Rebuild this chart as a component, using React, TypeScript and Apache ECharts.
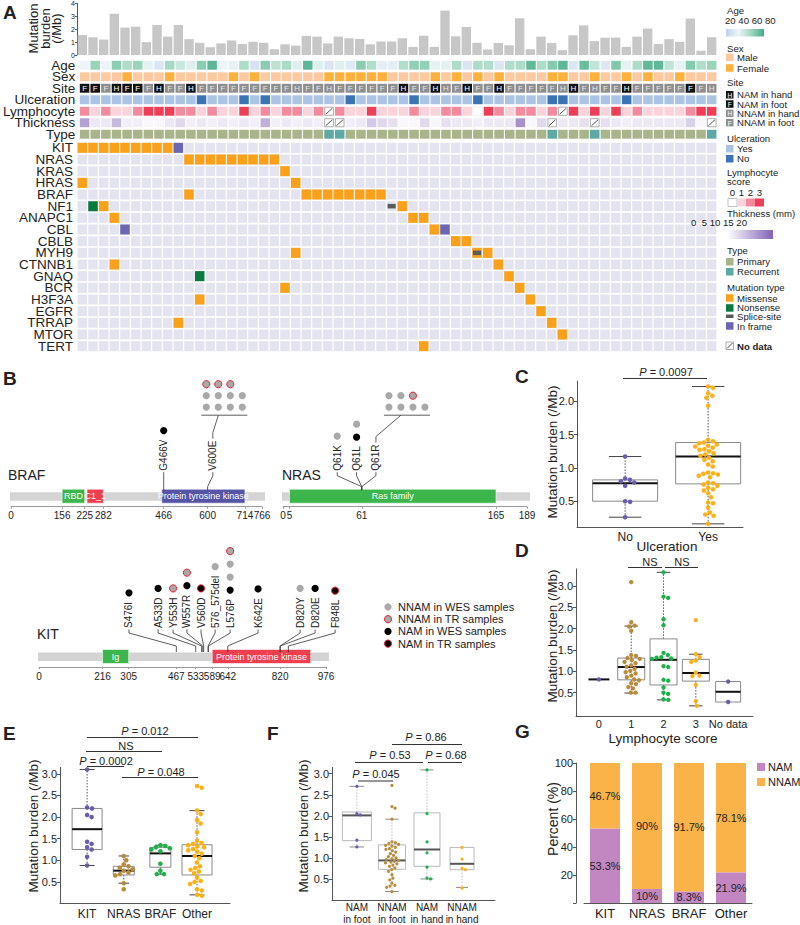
import React, { useEffect, useRef } from 'react';
import * as echarts from 'echarts';

const FONT = '"Liberation Sans", Arial, Helvetica, sans-serif';

/* ================= Panel A : oncoprint ================= */
const mutationBurden = [1.55, 1.38, 1.2, 3.2, 2.13, 2.2, 1.0, 2.33, 1.43, 2.33, 1.23, 0.95, 0.6, 0.9, 1.13, 0.85, 1.03, 0.95, 0.45, 0.83, 0.73, 1.48, 1.43, 0.9, 1.43, 1.3, 1.25, 0.83, 1.05, 1.05, 1.3, 0.63, 1.5, 0.63, 3.45, 1.45, 2.18, 0.95, 0.43, 0.93, 0.75, 2.85, 0.45, 1.43, 0.93, 0.38, 1.53, 2.3, 1.08, 1.35, 1.35, 0.63, 1.43, 2.05, 0.85, 1.23, 1.03, 2.83, 0.33, 1.38];
const sampleIds = mutationBurden.map((_, i) => 'P' + (i + 1));
const trackNames = ['Age', 'Sex', 'Site', 'Ulceration', 'Lymphocyte', 'Thickness', 'Type'];
const ageYears = [40, 62, 40, 65, 57, 62, 42, 32, 59, 50, 44, 65, 75, 40, 42, 57, 30, 65, 53, 58, 44, 75, 44, 32, 44, 34, 65, 56, 36, 36, 56, 64, 63, 42, 43, 57, 32, 57, 56, 32, 56, 57, 74, 57, 66, 75, 33, 72, 52, 33, 67, 42, 57, 74, 74, 52, 42, 66, 56, 62];
const sexes = ['M', 'M', 'M', 'M', 'F', 'M', 'M', 'M', 'F', 'M', 'M', 'M', 'M', 'M', 'F', 'M', 'F', 'M', 'M', 'M', 'M', 'M', 'M', 'F', 'F', 'F', 'F', 'F', 'F', 'M', 'M', 'M', 'M', 'F', 'M', 'F', 'M', 'F', 'M', 'F', 'M', 'M', 'M', 'M', 'F', 'F', 'M', 'M', 'F', 'M', 'M', 'F', 'M', 'F', 'M', 'M', 'F', 'M', 'M', 'M'];
const siteNames = ['NAM in hand', 'NAM in foot', 'NNAM in hand', 'NNAM in foot'];
const siteIdx = [1, 1, 3, 0, 1, 1, 3, 0, 3, 3, 0, 3, 3, 3, 3, 3, 3, 3, 3, 3, 2, 3, 3, 2, 3, 3, 3, 3, 3, 3, 0, 3, 3, 0, 2, 3, 0, 3, 3, 0, 3, 3, 3, 3, 3, 2, 0, 3, 2, 3, 3, 0, 3, 3, 3, 3, 3, 1, 3, 2];
const ulcerationYes = [1, 1, 1, 1, 1, 1, 1, 1, 1, 1, 1, 0, 1, 1, 1, 0, 1, 0, 1, 1, 1, 1, 1, 1, 1, 0, 1, 1, 1, 1, 1, 0, 1, 1, 1, 1, 1, 0, 1, 1, 1, 1, 1, 1, 0, 0, 1, 1, 1, 1, 1, 0, 1, 1, 1, 1, 1, 1, 1, 1];
const lymphocyteScore: (number | null)[] = [2, 1, 2, 1, 1, 2, 3, 3, 3, 2, 2, 1, 2, 1, 1, 3, 1, 2, 1, 2, 2, 1, 2, null, 2, 1, 1, 3, 1, 1, 1, 2, 1, 1, 2, 2, 1, 0, 3, 2, 1, 2, 2, 1, 2, null, 3, 1, 3, 1, 3, 1, 2, 1, 1, 1, 1, 2, 3, 3];
const thicknessMm: (number | null)[] = [12, 3, 3, 9, 2, 2, 1, 1, 3, 5, 2, 3, 2, 3, 2, 3, 2, 10, 2, 3, 2, 3, 2, null, null, 2, 3, 7, 5, 4, 1, 1, 5, 1, 4, 3, 3, 2, 3, 3, 3, 14, 1, 5, null, 3, 3, 4, null, 4, 3, 2, 3, 3, 3, 3, 3, 6, 1, null];
const tumorTypeIdx = [0, 0, 0, 0, 0, 0, 0, 0, 0, 0, 0, 0, 0, 0, 0, 0, 0, 0, 0, 0, 0, 0, 0, 1, 1, 0, 0, 0, 0, 0, 0, 0, 0, 0, 0, 0, 0, 0, 0, 0, 0, 0, 0, 0, 1, 0, 0, 0, 1, 0, 0, 0, 0, 0, 0, 0, 0, 0, 0, 1];
const genes = ['KIT', 'NRAS', 'KRAS', 'HRAS', 'BRAF', 'NF1', 'ANAPC1', 'CBL', 'CBLB', 'MYH9', 'CTNNB1', 'GNAQ', 'BCR', 'H3F3A', 'EGFR', 'TRRAP', 'MTOR', 'TERT'];
const mutations: [string, number, string][] = [
  ['KIT', 0, 'Missense'], ['KIT', 1, 'Missense'], ['KIT', 2, 'Missense'], ['KIT', 3, 'Missense'], ['KIT', 4, 'Missense'],
  ['KIT', 5, 'Missense'], ['KIT', 6, 'Missense'], ['KIT', 7, 'Missense'], ['KIT', 8, 'Missense'], ['KIT', 9, 'In frame'],
  ['NRAS', 10, 'Missense'], ['NRAS', 11, 'Missense'], ['NRAS', 12, 'Missense'], ['NRAS', 13, 'Missense'], ['NRAS', 14, 'Missense'],
  ['NRAS', 15, 'Missense'], ['NRAS', 16, 'Missense'], ['NRAS', 17, 'Missense'], ['NRAS', 18, 'Missense'],
  ['KRAS', 19, 'Missense'], ['HRAS', 0, 'Missense'], ['HRAS', 20, 'Missense'],
  ['BRAF', 10, 'Missense'], ['BRAF', 21, 'Missense'], ['BRAF', 22, 'Missense'], ['BRAF', 23, 'Missense'], ['BRAF', 24, 'Missense'],
  ['BRAF', 25, 'Missense'], ['BRAF', 26, 'Missense'], ['BRAF', 27, 'Missense'], ['BRAF', 28, 'Missense'],
  ['NF1', 1, 'Nonsense'], ['NF1', 2, 'Missense'], ['NF1', 29, 'Splice-site'], ['NF1', 30, 'Missense'],
  ['ANAPC1', 3, 'Missense'], ['ANAPC1', 31, 'Missense'], ['ANAPC1', 32, 'Missense'],
  ['CBL', 4, 'In frame'], ['CBL', 33, 'Missense'], ['CBL', 34, 'In frame'],
  ['CBLB', 35, 'Missense'], ['CBLB', 36, 'Missense'],
  ['MYH9', 20, 'Missense'], ['MYH9', 37, 'Missense'], ['MYH9', 37, 'Splice-site'], ['MYH9', 38, 'Missense'],
  ['CTNNB1', 3, 'Missense'], ['CTNNB1', 39, 'Missense'],
  ['GNAQ', 11, 'Nonsense'], ['GNAQ', 40, 'Missense'],
  ['BCR', 19, 'Missense'], ['BCR', 41, 'Missense'],
  ['H3F3A', 11, 'Missense'], ['H3F3A', 42, 'Missense'],
  ['EGFR', 43, 'Missense'], ['TRRAP', 9, 'Missense'], ['TRRAP', 44, 'Missense'],
  ['MTOR', 45, 'Missense'], ['TERT', 32, 'Missense'],
];

/* ================= Panel B : lollipops ================= */
const brafLength = 766;
const brafTicks = [0, 156, 225, 282, 466, 600, 714, 766];
const brafDomainNames = ['RBD', 'C1_1', 'Protein tyrosine kinase'];
const brafDomainStart = [156, 232, 460];
const brafDomainEnd = [225, 282, 714];
const brafMut = ['G466V', 'V600E'];
const brafPos = [466, 600];
const brafNamWES = [1, 0];
const brafNamTR = [0, 0];
const brafNnamWES = [0, 8];
const brafNnamTR = [0, 3];

const nrasLength = 189;
const nrasTicks = [0, 5, 61, 165, 189];
const nrasDomainNames = ['Ras family'];
const nrasDomainStart = [5];
const nrasDomainEnd = [165];
const nrasMut = ['Q61K', 'Q61L', 'Q61R'];
const nrasPos = [61, 61, 61];
const nrasNamWES = [0, 1, 0];
const nrasNamTR = [0, 0, 0];
const nrasNnamWES = [1, 1, 6];
const nrasNnamTR = [0, 0, 1];

const kitLength = 976;
const kitTicks = [0, 216, 305, 467, 533, 589, 642, 820, 924, 976];
const kitDomainNames = ['Ig', 'Protein tyrosine kinase'];
const kitDomainStart = [216, 589];
const kitDomainEnd = [305, 924];
const kitMut = ['S476I', 'A533D', 'Y553H', 'W557R', 'V560D', '576_575del', 'L576P', 'K642E', 'D820Y', 'D820E', 'F848L'];
const kitPos = [467, 533, 553, 557, 560, 575, 576, 642, 820, 820, 848];
const kitNamWES = [1, 1, 0, 1, 0, 0, 1, 1, 0, 1, 0];
const kitNamTR = [0, 0, 0, 0, 1, 0, 0, 0, 0, 0, 1];
const kitNnamWES = [0, 0, 0, 0, 0, 1, 2, 0, 1, 0, 0];
const kitNnamTR = [0, 0, 1, 1, 0, 0, 1, 0, 0, 0, 0];
const lollipopLegend = ['NNAM in WES samples', 'NNAM in TR samples', 'NAM in WES samples', 'NAM in TR samples'];

/* ================= Panel C ================= */
const cCats = ['No', 'Yes'];
const cNo = [1.17, 0.84, 0.82, 0.80, 0.78, 0.73, 0.50, 0.49, 0.26];
const cYes = [2.22, 2.20, 2.12, 2.08, 2.05, 1.93, 1.42, 1.40, 1.38, 1.37, 1.35, 1.33, 1.32, 1.30, 1.28, 1.27, 1.25, 1.22, 1.20, 1.18, 1.15, 1.12, 1.10, 1.05, 1.02, 0.93, 0.92, 0.91, 0.90, 0.88, 0.86, 0.78, 0.77, 0.75, 0.73, 0.70, 0.68, 0.66, 0.62, 0.56, 0.48, 0.47, 0.40, 0.33, 0.30, 0.28, 0.16];
const cBoxStats = [[0.26, 0.50, 0.77, 0.82, 1.17], [0.16, 0.76, 1.17, 1.38, 2.22]];

/* ================= Panel D ================= */
const dCats = ['0', '1', '2', '3', 'No data'];
const dScore0 = [0.81];
const dScore1 = [3.09, 2.15, 2.07, 2.05, 1.95, 1.38, 1.36, 1.31, 1.29, 1.26, 1.22, 1.19, 1.14, 1.11, 1.06, 1.01, 0.98, 0.95, 0.90, 0.86, 0.81, 0.79, 0.72, 0.70, 0.63, 0.60, 0.50, 0.50];
const dScore2 = [3.32, 2.75, 2.72, 2.22, 2.08, 1.43, 1.38, 1.33, 1.32, 1.30, 1.29, 1.12, 1.10, 0.80, 0.78, 0.62, 0.50, 0.47, 0.34, 0.33];
const dScore3 = [2.20, 1.40, 1.33, 1.25, 1.22, 0.97, 0.90, 0.89, 0.68, 0.30, 0.19];
const dNoData = [0.76, 0.28];
const dBoxStats = [[0.81, 0.81, 0.81, 0.81, 0.81], [0.49, 0.80, 1.10, 1.31, 2.06], [0.33, 0.68, 1.27, 1.76, 3.32], [0.19, 0.77, 0.96, 1.28, 1.40], [0.28, 0.28, 0.52, 0.76, 0.76]];

/* ================= Panel E ================= */
const eCats = ['KIT', 'NRAS', 'BRAF', 'Other'];
const eKit = [3.10, 2.22, 2.20, 2.05, 2.00, 1.43, 1.38, 1.30, 1.25, 1.08, 0.88];
const eNras = [1.10, 1.00, 0.90, 0.86, 0.83, 0.79, 0.76, 0.72, 0.68, 0.65, 0.47, 0.33];
const eBraf = [1.35, 1.33, 1.30, 1.28, 1.25, 1.21, 0.92, 0.76, 0.68, 0.68];
const eOther = [2.72, 2.68, 2.15, 2.07, 1.93, 1.85, 1.65, 1.45, 1.40, 1.38, 1.35, 1.32, 1.30, 1.26, 1.23, 1.20, 1.15, 1.10, 1.05, 0.95, 0.86, 0.82, 0.78, 0.74, 0.70, 0.60, 0.52, 0.50, 0.45, 0.33, 0.30, 0.20, 0.18];
const eBoxStats = [[0.88, 1.25, 1.72, 2.20, 3.10], [0.47, 0.66, 0.76, 0.86, 1.10], [0.68, 0.84, 1.16, 1.30, 1.35], [0.20, 0.66, 1.10, 1.36, 2.15]];

/* ================= Panel F ================= */
const fCats = ['NAM\nin foot', 'NNAM\nin foot', 'NAM\nin hand', 'NNAM\nin hand'];
const fNamFoot = [2.70, 2.05, 2.02, 1.42, 1.26];
const fNnamFoot = [2.72, 2.22, 2.18, 1.92, 1.38, 1.36, 1.34, 1.32, 1.30, 1.28, 1.25, 1.22, 1.20, 1.17, 1.14, 1.10, 1.06, 1.03, 1.00, 0.98, 0.96, 0.94, 0.92, 0.90, 0.88, 0.86, 0.83, 0.80, 0.76, 0.72, 0.68, 0.60, 0.52, 0.48, 0.40, 0.35, 0.33, 0.30, 0.20];
const fNamHand = [3.09, 2.05, 1.38, 1.12, 0.78, 0.52, 0.50];
const fNnamHand = [1.25, 0.97, 0.75, 0.72, 0.28];
const fBoxStats = [[1.26, 1.41, 2.01, 2.09, 2.70], [0.20, 0.73, 0.94, 1.31, 1.92], [0.50, 0.80, 1.20, 2.07, 3.09], [0.30, 0.72, 0.86, 1.25, 1.25]];

/* ================= Panel G ================= */
const gCats = ['KIT', 'NRAS', 'BRAF', 'Other'];
const gNam = [53.3, 10, 8.3, 21.9];
const gNnam = [46.7, 90, 91.7, 78.1];

/* ================= helpers ================= */
const C_PURPLE = '#6a5caf';
const C_BROWN = '#b88b3d';
const C_GREEN = '#1fb04b';
const C_ORANGE = '#fbb11c';

function hex(h: string) {
  const n = parseInt(h.slice(1), 16);
  return [(n >> 16) & 255, (n >> 8) & 255, n & 255];
}
function mix(stops: [number, string][], v: number) {
  if (v <= stops[0][0]) return stops[0][1];
  for (let i = 1; i < stops.length; i++) {
    if (v <= stops[i][0]) {
      const a = stops[i - 1], b = stops[i];
      const t = (v - a[0]) / (b[0] - a[0]);
      const A = hex(a[1]), B = hex(b[1]);
      return 'rgb(' + A.map((x, k) => Math.round(x + (B[k] - x) * t)).join(',') + ')';
    }
  }
  return stops[stops.length - 1][1];
}
let measureCtx: any = null;
function textW(t: string, size: number) {
  if (!measureCtx && typeof document !== 'undefined') measureCtx = document.createElement('canvas').getContext('2d');
  if (measureCtx) {
    measureCtx.font = size + 'px ' + FONT;
    return measureCtx.measureText(t).width;
  }
  return t.length * size * 0.6;
}
function swarm(values: number[], center: number, pxX: number, pxY: number, r: number) {
  const order = values.map((_, i) => i).sort((a, b) => values[b] - values[a]);
  const placed: { x: number; y: number }[] = [];
  const out: number[][] = new Array(values.length);
  const d = 2 * r + 0.4;
  for (const i of order) {
    const y = values[i] * pxY;
    const cands = [0];
    for (const p of placed) {
      const dy = Math.abs(p.y - y);
      if (dy < d) {
        const dx = Math.sqrt(d * d - dy * dy);
        cands.push(p.x + dx, p.x - dx);
      }
    }
    cands.sort((a, b) => Math.abs(a) - Math.abs(b));
    let best = 0;
    for (const c of cands) {
      if (placed.every((p) => (p.x - c) * (p.x - c) + (p.y - y) * (p.y - y) >= d * d - 0.01)) { best = c; break; }
    }
    placed.push({ x: best, y });
    out[i] = [center + best / pxX, values[i]];
  }
  return out;
}
function txt(text: string, x: number, y: number, o: any = {}) {
  const align = o.align || 'left';
  const va = o.va || 'middle';
  return {
    type: 'text', x, y, rotation: o.rot || 0, silent: true, z: 100,
    style: {
      text, x: 0, y: 0, fill: o.color || '#222',
      font: (o.bold ? 'bold ' : '') + (o.size || 11) + 'px ' + FONT,
      textAlign: align, textVerticalAlign: va, align, verticalAlign: va,
      lineHeight: o.lh, rich: o.rich,
    },
  };
}
function ptxt(rest: string, x: number, y: number, size = 11) {
  return txt('{i|P}' + rest, x, y, {
    align: 'center', size,
    rich: { i: { fontStyle: 'italic', fontSize: size, fontFamily: FONT, fill: '#222' } },
  });
}
function rct(x: number, y: number, w: number, h: number, fill: string, stroke?: string, lw = 0.7) {
  return { type: 'rect', silent: true, z: 100, shape: { x, y, width: w, height: h }, style: { fill, stroke: stroke || null, lineWidth: lw } };
}
function lin(x1: number, y1: number, x2: number, y2: number, stroke = '#333', lw = 1) {
  return { type: 'line', silent: true, z: 100, shape: { x1, y1, x2, y2 }, style: { stroke, lineWidth: lw } };
}

/* ================= option ================= */
function buildOption() {
  const N = mutationBurden.length;
  const ageStops: [number, string][] = [[20, '#c0d0ea'], [40, '#eef5f8'], [60, '#a2d8c1'], [80, '#46ab89']];
  const thickStops: [number, string][] = [[0, '#ffffff'], [20, '#8163b5']];
  const sexColor: any = { M: '#fdc9a1', F: '#fbb13c' };
  const siteFill = ['#111111', '#111111', '#8e8e8e', '#8e8e8e'];
  const siteLetter = ['H', 'F', 'H', 'F'];
  const ulcerColor = ['#3a74b4', '#abc4e3'];
  const lymphColor = ['#ffffff', '#fcd3db', '#f48a9e', '#ee3e58'];
  const typeColor = ['#a9b48b', '#5ea9a5'];
  const mutColor: any = { Missense: '#f9a11b', Nonsense: '#0b7a3e', 'Splice-site': '#5b5b5b', 'In frame': '#6c66b2' };

  const trackCells: any[] = [];
  for (let c = 0; c < N; c++) {
    trackCells.push({ c, r: 0, fill: mix(ageStops, ageYears[c]) });
    trackCells.push({ c, r: 1, fill: sexColor[sexes[c]] });
    trackCells.push({ c, r: 2, fill: siteFill[siteIdx[c]], letter: siteLetter[siteIdx[c]], lf: siteIdx[c] < 2 ? '#ffffff' : '#e6e6e6' });
    trackCells.push({ c, r: 3, fill: ulcerColor[ulcerationYes[c]] });
    const l = lymphocyteScore[c];
    trackCells.push(l == null ? { c, r: 4, na: true } : { c, r: 4, fill: lymphColor[l], border: l === 0 });
    const t = thicknessMm[c];
    trackCells.push(t == null ? { c, r: 5, na: true } : { c, r: 5, fill: mix(thickStops, t) });
    trackCells.push({ c, r: 6, fill: typeColor[tumorTypeIdx[c]] });
  }
  const bgCells: number[][] = [];
  for (let c = 0; c < N; c++) for (let r = 0; r < genes.length; r++) bgCells.push([c, r]);

  const grids: any[] = [
    { left: 77, top: 2, width: 640, height: 53 },          // 0 A bars
    { left: 77, top: 59.5, width: 640, height: 80.5 },     // 1 A tracks
    { left: 77, top: 142, width: 640, height: 210 },       // 2 A genes
    { left: 11, top: 380, width: 251, height: 126.7 },     // 3 BRAF
    { left: 283, top: 380, width: 244, height: 126.7 },    // 4 NRAS
    { left: 39, top: 540, width: 287, height: 127 },       // 5 KIT
    { left: 577, top: 381.2, width: 166, height: 146 },    // 6 C
    { left: 576, top: 568.9, width: 177, height: 147.2 },  // 7 D
    { left: 60, top: 767.4, width: 170, height: 136.1 },   // 8 E
    { left: 332, top: 767.4, width: 163, height: 136.1 },  // 9 F
    { left: 584, top: 763, width: 168, height: 140 },      // 10 G
  ];
  const xAxis: any[] = [];
  const yAxis: any[] = [];
  const series: any[] = [];
  const axisCol = '#555';
  const lab = (size: number, extra: any = {}) => ({ fontSize: size, color: '#222', fontFamily: FONT, ...extra });

  // ---- A bars
  xAxis.push({ type: 'category', gridIndex: 0, data: sampleIds, show: false });
  yAxis.push({
    type: 'value', gridIndex: 0, min: 0, max: 4, interval: 1,
    axisLine: { show: true, lineStyle: { color: axisCol } }, axisTick: { show: true, length: 2, lineStyle: { color: axisCol } },
    axisLabel: lab(7, { margin: 2 }), splitLine: { show: false },
  });
  series.push({ type: 'bar', xAxisIndex: 0, yAxisIndex: 0, data: mutationBurden, barWidth: '88%', itemStyle: { color: '#c7c7c7' }, silent: true });

  // ---- A tracks
  xAxis.push({ type: 'category', gridIndex: 1, data: sampleIds, show: false });
  yAxis.push({
    type: 'category', gridIndex: 1, data: trackNames, inverse: true,
    axisLine: { show: false }, axisTick: { show: false }, axisLabel: lab(13.5, { interval: 0, margin: 4, lineHeight: 11 }),
  });
  series.push({
    type: 'custom', xAxisIndex: 1, yAxisIndex: 1, silent: true,
    data: trackCells.map((t) => [t.c, t.r]),
    renderItem: (params: any, api: any) => {
      const cell = trackCells[params.dataIndex];
      const p = api.coord([api.value(0), api.value(1)]);
      const s = api.size([1, 1]);
      const w = s[0] - 1.1, h = s[1] - 2.6;
      const x = p[0] - w / 2, y = p[1] - h / 2;
      const ch: any[] = [];
      if (cell.na) {
        ch.push({ type: 'rect', shape: { x: x + 0.4, y: y + 0.4, width: w - 0.8, height: h - 0.8 }, style: { fill: '#fff', stroke: '#777', lineWidth: 0.6 } });
        ch.push({ type: 'line', shape: { x1: x + 1.5, y1: y + h - 1.5, x2: x + w - 1.5, y2: y + 1.5 }, style: { stroke: '#222', lineWidth: 0.8 } });
      } else {
        ch.push({ type: 'rect', shape: { x, y, width: w, height: h }, style: { fill: cell.fill, stroke: cell.border ? '#e2e2e2' : null, lineWidth: 0.5 } });
        if (cell.letter) {
          ch.push({ type: 'text', style: { text: cell.letter, x: p[0], y: p[1] + 0.5, fill: cell.lf, font: '8px ' + FONT, textAlign: 'center', textVerticalAlign: 'middle', align: 'center', verticalAlign: 'middle' } });
        }
      }
      return { type: 'group', children: ch };
    },
  });

  // ---- A genes
  xAxis.push({ type: 'category', gridIndex: 2, data: sampleIds, show: false });
  yAxis.push({
    type: 'category', gridIndex: 2, data: genes, inverse: true,
    axisLine: { show: false }, axisTick: { show: false }, axisLabel: lab(13.5, { interval: 0, margin: 4, lineHeight: 11 }),
  });
  series.push({
    type: 'custom', xAxisIndex: 2, yAxisIndex: 2, silent: true, data: bgCells,
    renderItem: (params: any, api: any) => {
      const p = api.coord([api.value(0), api.value(1)]);
      const s = api.size([1, 1]);
      const w = s[0] - 1.1, h = s[1] - 1.6;
      return { type: 'rect', shape: { x: p[0] - w / 2, y: p[1] - h / 2, width: w, height: h }, style: { fill: '#e4e4f1' } };
    },
  });
  series.push({
    type: 'custom', xAxisIndex: 2, yAxisIndex: 2, silent: true,
    data: mutations.map((m) => [m[1], genes.indexOf(m[0])]),
    renderItem: (params: any, api: any) => {
      const kind = mutations[params.dataIndex][2];
      const p = api.coord([api.value(0), api.value(1)]);
      const s = api.size([1, 1]);
      let w = s[0] - 1.1, h = s[1] - 1.6;
      if (kind === 'Splice-site') { w = w * 0.85; h = h * 0.45; }
      return { type: 'rect', shape: { x: p[0] - w / 2, y: p[1] - h / 2, width: w, height: h }, style: { fill: mutColor[kind] } };
    },
  });

  // ---- B proteins + lollipops
  const dotStyles = [
    { fill: '#000000', stroke: null },
    { fill: '#000000', stroke: '#e8202a' },
    { fill: '#a9a9a9', stroke: null },
    { fill: '#a9a9a9', stroke: '#e8202a' },
  ];
  const addProtein = (gi: number, length: number, ticks: number[], dNames: string[], dStart: number[], dEnd: number[], dColors: string[]) => {
    xAxis.push({
      type: 'value', gridIndex: gi, min: 0, max: length,
      axisLine: { show: true, onZero: false, lineStyle: { color: '#9a9a9a' } },
      axisTick: { show: true, customValues: ticks, length: 2, lineStyle: { color: '#9a9a9a' } },
      axisLabel: lab(10, { customValues: ticks, margin: 4, hideOverlap: false, showMaxLabel: true, showMinLabel: true }), splitLine: { show: false },
    });
    yAxis.push({ type: 'value', gridIndex: gi, min: 0, max: 1, show: false });
    const data = [[0, length, 0]].concat(dNames.map((_, i) => [dStart[i], dEnd[i], 0]));
    series.push({
      type: 'custom', xAxisIndex: gi, yAxisIndex: gi, silent: true, clip: false, data, encode: { x: [0, 1], y: 2 },
      renderItem: (params: any, api: any) => {
        const i = params.dataIndex;
        const p0 = api.coord([api.value(0), 0]);
        const p1 = api.coord([api.value(1), 0]);
        const y0 = p0[1];
        if (i === 0) {
          return { type: 'rect', shape: { x: p0[0] - 1, y: y0 - 14.5, width: p1[0] - p0[0] + 4, height: 8.5 }, style: { fill: '#d4d4d4' } };
        }
        return {
          type: 'group', children: [
            { type: 'rect', shape: { x: p0[0], y: y0 - 17.5, width: p1[0] - p0[0], height: 14 }, style: { fill: dColors[i - 1], stroke: '#ffffff', lineWidth: 0.6 } },
            { type: 'text', style: { text: dNames[i - 1], x: (p0[0] + p1[0]) / 2, y: y0 - 10.3, fill: '#ffffff', font: '9px ' + FONT, textAlign: 'center', textVerticalAlign: 'middle', align: 'center', verticalAlign: 'middle' } },
          ],
        };
      },
    });
  };
  const addLollipops = (gi: number, names: string[], pos: number[], counts: number[][], labelAt: number[], groupAt: (number | null)[], geo: any) => {
    series.push({
      type: 'custom', xAxisIndex: gi, yAxisIndex: gi, silent: true, clip: false,
      data: pos.map((p) => [p, 0]),
      renderItem: (params: any, api: any) => {
        const i = params.dataIndex;
        const pp = api.coord([api.value(0), 0]);
        const px = pp[0], y0 = pp[1];
        const lx = api.coord([labelAt[i], 0])[0];
        const lb = y0 + geo.lb;
        const lt = lb - textW(names[i], 10);
        const ch: any[] = [];
        ch.push({ type: 'polyline', shape: { points: [[lx, lb + 1.5], [lx, y0 + geo.k1], [px, y0 + geo.k2], [px, y0 + geo.end]] }, style: { stroke: '#333', fill: null, lineWidth: 0.8 } });
        ch.push({ type: 'text', x: lx, y: lb, rotation: Math.PI / 2, style: { text: names[i], x: 0, y: 0, fill: '#222', font: '10px ' + FONT, textAlign: 'left', textVerticalAlign: 'middle', align: 'left', verticalAlign: 'middle' } });
        const c = counts[i];
        const g = groupAt[i];
        const dots: number[] = [];
        if (g != null) {
          [2, 3, 0, 1].forEach((k) => { for (let n = 0; n < c[k]; n++) dots.push(k); });
          const gx = api.coord([g, 0])[0];
          const by = y0 + geo.gBar;
          ch.push({ type: 'polyline', shape: { points: [[lx, lt - 2], [lx, lt - 8], [gx - 6, by]] }, style: { stroke: '#333', fill: null, lineWidth: 0.8 } });
          ch.push({ type: 'line', shape: { x1: gx - 23, y1: by, x2: gx + 23, y2: by }, style: { stroke: '#333', lineWidth: 0.8 } });
          dots.forEach((k, n) => {
            const row = Math.floor(n / 4), col = n % 4;
            ch.push({ type: 'circle', shape: { cx: gx + (col - 1.5) * 12, cy: by - 8 - row * 11.5, r: 3.6 }, style: { fill: dotStyles[k].fill, stroke: dotStyles[k].stroke, lineWidth: 1 } });
          });
        } else {
          [0, 1, 2, 3].forEach((k) => { for (let n = 0; n < c[k]; n++) dots.push(k); });
          dots.forEach((k, n) => {
            ch.push({ type: 'circle', shape: { cx: lx, cy: lt - 9 - n * 13, r: 3.6 }, style: { fill: dotStyles[k].fill, stroke: dotStyles[k].stroke, lineWidth: 1 } });
          });
        }
        return { type: 'group', children: ch };
      },
    });
  };
  const countsOf = (a: number[], b: number[], c: number[], d: number[]) => a.map((_, i) => [a[i], b[i], c[i], d[i]]);
  const geoTop = { lb: -36, k1: -31, k2: -20, end: -16.5, gBar: -91.5 };
  const geoKit = { lb: -39, k1: -34, k2: -21, end: -15, gBar: -90 };
  addProtein(3, brafLength, brafTicks, brafDomainNames, brafDomainStart, brafDomainEnd, ['#3cb54a', '#ee3f4f', '#5654a5']);
  addLollipops(3, brafMut, brafPos, countsOf(brafNamWES, brafNamTR, brafNnamWES, brafNnamTR), [466, 616], [null, 651], geoTop);
  addProtein(4, nrasLength, nrasTicks, nrasDomainNames, nrasDomainStart, nrasDomainEnd, ['#3cb54a']);
  addLollipops(4, nrasMut, nrasPos, countsOf(nrasNamWES, nrasNamTR, nrasNnamWES, nrasNnamTR), [42, 57, 72], [null, null, 96], geoTop);
  addProtein(5, kitLength, kitTicks, kitDomainNames, kitDomainStart, kitDomainEnd, ['#3cb54a', '#ee3f4f']);
  addLollipops(5, kitMut, kitPos, countsOf(kitNamWES, kitNamTR, kitNnamWES, kitNnamTR), [306, 405, 456, 503, 551, 599, 650, 745, 888, 939, 1007], kitMut.map(() => null), geoKit);

  // ---- box panels
  const addBoxPanel = (gi: number, xMin: number, xMax: number, yMin: number, yMax: number, cats: string[], groups: number[][],
    stats: number[][], widths: number[], colors: string[], r: number, yTicks: number[], xFont: number, xMargin: number, st: any) => {
    const gr = grids[gi];
    const pxX = gr.width / (xMax - xMin), pxY = gr.height / (yMax - yMin);
    const centers = cats.map((_, i) => i);
    xAxis.push({
      type: 'value', gridIndex: gi, min: xMin, max: xMax,
      axisLine: { show: true, onZero: false, lineStyle: { color: axisCol } }, axisTick: { show: false },
      axisLabel: lab(xFont, { customValues: centers, formatter: (v: number) => cats[Math.round(v)], margin: xMargin, lineHeight: xFont + 1.5, hideOverlap: false, showMaxLabel: true, showMinLabel: true }),
      splitLine: { show: false },
    });
    yAxis.push({
      type: 'value', gridIndex: gi, min: yMin, max: yMax,
      axisLine: { show: true, onZero: false, lineStyle: { color: axisCol } },
      axisTick: { show: true, customValues: yTicks, length: 3, lineStyle: { color: axisCol } },
      axisLabel: lab(11, { customValues: yTicks, formatter: (v: number) => v.toFixed(1), margin: 3 }),
      splitLine: { show: false },
    });
    series.push({
      type: 'custom', xAxisIndex: gi, yAxisIndex: gi, silent: true, clip: false, z: 2,
      data: stats.map((s, i) => [i, s[0], s[1], s[2], s[3], s[4]]), encode: { x: 0, y: [1, 2, 3, 4, 5] },
      renderItem: (params: any, api: any) => {
        const i = params.dataIndex;
        const x = api.value(0);
        const Y = (k: number) => api.coord([x, api.value(k)])[1];
        const cx = api.coord([x, 0])[0];
        const yMinP = Y(1), yQ1 = Y(2), yMed = Y(3), yQ3 = Y(4), yMaxP = Y(5);
        const w = widths[i], cw = w * 0.5;
        const ch: any[] = [];
        if (yMaxP < yQ3 - 0.5) {
          ch.push({ type: 'line', shape: { x1: cx, y1: yQ3, x2: cx, y2: yMaxP }, style: { stroke: st.wh, lineWidth: 1, lineDash: [1.5, 1.5] } });
          ch.push({ type: 'line', shape: { x1: cx - cw / 2, y1: yMaxP, x2: cx + cw / 2, y2: yMaxP }, style: { stroke: st.cap, lineWidth: 1 } });
        }
        if (yMinP > yQ1 + 0.5) {
          ch.push({ type: 'line', shape: { x1: cx, y1: yQ1, x2: cx, y2: yMinP }, style: { stroke: st.wh, lineWidth: 1, lineDash: [1.5, 1.5] } });
          ch.push({ type: 'line', shape: { x1: cx - cw / 2, y1: yMinP, x2: cx + cw / 2, y2: yMinP }, style: { stroke: st.cap, lineWidth: 1 } });
        }
        if (yQ1 - yQ3 > 0.5) {
          ch.push({ type: 'rect', shape: { x: cx - w / 2, y: yQ3, width: w, height: yQ1 - yQ3 }, style: { fill: null, stroke: st.box, lineWidth: 1 } });
        }
        ch.push({ type: 'line', shape: { x1: cx - w / 2, y1: yMed, x2: cx + w / 2, y2: yMed }, style: { stroke: st.med, lineWidth: 2 } });
        return { type: 'group', children: ch };
      },
    });
    groups.forEach((vals, gidx) => {
      series.push({
        type: 'scatter', xAxisIndex: gi, yAxisIndex: gi, silent: true, z: 3, symbolSize: r * 2,
        itemStyle: { color: colors[gidx], opacity: 1 },
        data: swarm(vals, gidx, pxX, pxY, r),
      });
    });
  };
  const stDark = { box: '#8a8a8a', med: '#111111', wh: '#555555', cap: '#444444' };
  const stLight = { box: '#b9b9b9', med: '#555555', wh: '#bdbdbd', cap: '#8a8a8a' };
  addBoxPanel(6, -0.58, 1.42, 0.11, 2.3, cCats, [cNo, cYes], cBoxStats, [65, 65], [C_PURPLE, C_ORANGE], 2.3, [0.5, 1, 1.5, 2], 12, 3, stDark);
  addBoxPanel(7, -0.71, 4.77, -0.05, 3.4, dCats, [dScore0, dScore1, dScore2, dScore3, dNoData], dBoxStats, [21, 27, 27, 27, 25],
    [C_PURPLE, C_BROWN, C_GREEN, C_ORANGE, C_PURPLE], 2.2, [0.5, 1, 1.5, 2, 2.5, 3], 11, 2, stDark);
  addBoxPanel(8, -0.74, 3.9, 0, 3.15, eCats, [eKit, eNras, eBraf, eOther], eBoxStats, [30, 21, 21, 30],
    [C_PURPLE, C_BROWN, C_GREEN, C_ORANGE], 2.3, [0.5, 1, 1.5, 2, 2.5, 3], 12, 4, stDark);
  addBoxPanel(9, -0.71, 3.94, 0, 3.15, fCats, [fNamFoot, fNnamFoot, fNamHand, fNnamHand], fBoxStats, [29, 27, 26, 24],
    [C_PURPLE, C_BROWN, C_GREEN, C_ORANGE], 1.6, [0.5, 1, 1.5, 2, 2.5, 3], 10, 2, stLight);

  // ---- G stacked bars
  xAxis.push({
    type: 'category', gridIndex: 10, data: gCats,
    axisLine: { show: true, lineStyle: { color: axisCol } }, axisTick: { show: false }, axisLabel: lab(13, { margin: 4, interval: 0 }),
  });
  yAxis.push({
    type: 'value', gridIndex: 10, min: 0, max: 100, offset: 8,
    axisLine: { show: true, lineStyle: { color: axisCol } },
    axisTick: { show: true, customValues: [0, 20, 40, 60, 80, 100], length: 3, lineStyle: { color: axisCol } },
    axisLabel: lab(11, { customValues: [20, 40, 60, 80, 100], margin: 3 }), splitLine: { show: false },
  });
  const barLabel = { show: true, position: 'inside', formatter: '{c}%', color: '#222', fontSize: 11, fontFamily: FONT };
  series.push({ type: 'bar', name: 'NAM', stack: 'g', xAxisIndex: 10, yAxisIndex: 10, data: gNam, barWidth: 30, silent: true, itemStyle: { color: '#c286c1' }, label: barLabel });
  series.push({ type: 'bar', name: 'NNAM', stack: 'g', xAxisIndex: 10, yAxisIndex: 10, data: gNnam, barWidth: 30, silent: true, itemStyle: { color: '#f9b349' }, label: barLabel });

  // ---- graphic: panel letters, titles, legends, annotations
  const G: any[] = [];
  [['A', 3, 12], ['B', 3, 378], ['C', 515, 376], ['D', 515, 550], ['E', 3, 733], ['F', 267, 733], ['G', 515, 731]].forEach((a: any) => {
    G.push(txt(a[0], a[1], a[2], { bold: true, size: 19 }));
  });
  G.push(txt('Mutation\nburden\n(/Mb)', 45, 28.5, { rot: Math.PI / 2, align: 'center', size: 13, lh: 11.5 }));

  // A legend
  const LX = 726, TX = 737, FS = 9.6;
  G.push(txt('Age', 727, 10, { size: FS }));
  G.push(txt('20 40 60 80', 725, 20.5, { size: FS }));
  G.push({
    type: 'rect', silent: true, z: 100, shape: { x: 726, y: 29, width: 38, height: 7.5 },
    style: { fill: new echarts.graphic.LinearGradient(0, 0, 1, 0, [{ offset: 0, color: '#c0d0ea' }, { offset: 0.33, color: '#eef5f8' }, { offset: 0.66, color: '#a2d8c1' }, { offset: 1, color: '#46ab89' }]) },
  });
  G.push(txt('Sex', 727, 48.5, { size: FS }));
  G.push(rct(LX, 53.5, 7.5, 7.5, '#fdc9a1')); G.push(txt('Male', TX, 57.3, { size: FS }));
  G.push(rct(LX, 64.2, 7.5, 7.5, '#fbb13c')); G.push(txt('Female', TX, 68, { size: FS }));
  G.push(txt('Site', 727, 82, { size: FS }));
  siteNames.forEach((s, i) => {
    const y = 94.8 + i * 9.3;
    G.push(rct(LX, y - 3.8, 7.5, 7.5, i < 2 ? '#111111' : '#8e8e8e'));
    G.push(txt(i % 2 === 0 ? 'H' : 'F', LX + 3.75, y + 0.3, { size: 6.5, color: '#fff', align: 'center' }));
    G.push(txt(s, TX, y, { size: FS }));
  });
  G.push(txt('Ulceration', 727, 138, { size: FS }));
  G.push(rct(LX, 145, 7.5, 7.5, '#abc4e3')); G.push(txt('Yes', TX, 148.8, { size: FS }));
  G.push(rct(LX, 155, 7.5, 7.5, '#3a74b4')); G.push(txt('No', TX, 158.8, { size: FS }));
  G.push(txt('Lymphocyte', 727, 172, { size: FS }));
  G.push(txt('score', 727, 181.5, { size: FS }));
  lymphColor.forEach((c, i) => {
    G.push(rct(728 + i * 9, 198.5, 9, 8, c, i === 0 ? '#999' : undefined, 0.6));
    G.push(txt(String(i), 732.5 + i * 9, 192, { size: FS, align: 'center' }));
  });
  G.push(txt('Thickness (mm)', 727, 213, { size: FS }));
  G.push(txt('0  5 10 15 20', 691, 222.5, { size: FS }));
  G.push({
    type: 'rect', silent: true, z: 100, shape: { x: 727, y: 230, width: 46, height: 9 },
    style: { fill: new echarts.graphic.LinearGradient(0, 0, 1, 0, [{ offset: 0, color: '#ffffff' }, { offset: 1, color: '#8163b5' }]) },
  });
  G.push(txt('Type', 727, 250, { size: FS }));
  G.push(rct(LX, 258, 7.5, 7.5, '#a9b48b')); G.push(txt('Primary', TX, 261.8, { size: FS }));
  G.push(rct(LX, 268, 7.5, 7.5, '#5ea9a5')); G.push(txt('Recurrent', TX, 271.8, { size: FS }));
  G.push(txt('Mutation type', 727, 287, { size: FS }));
  G.push(rct(LX, 294.2, 7.5, 7.5, mutColor.Missense)); G.push(txt('Missense', TX, 298, { size: FS }));
  G.push(rct(LX, 304.2, 7.5, 7.5, mutColor.Nonsense)); G.push(txt('Nonsense', TX, 307.5, { size: FS }));
  G.push(rct(LX, 314.5, 7.5, 3.5, mutColor['Splice-site'])); G.push(txt('Splice-site', TX, 316.5, { size: FS }));
  G.push(rct(LX, 322.2, 7.5, 7.5, mutColor['In frame'])); G.push(txt('In frame', TX, 326, { size: FS }));
  G.push(rct(LX, 342, 7.5, 7.5, '#fff', '#777', 0.6)); G.push(lin(LX + 1, 348.5, LX + 6.5, 343, '#222', 0.8));
  G.push(txt('No data', TX, 346, { size: FS, bold: true }));

  // B labels & legend
  G.push(txt('BRAF', 8, 475, { size: 14 }));
  G.push(txt('NRAS', 282, 475, { size: 14 }));
  G.push(txt('KIT', 37, 634, { size: 14 }));
  lollipopLegend.forEach((s, i) => {
    const y = 607 + i * 12.2;
    const st = [dotStyles[2], dotStyles[3], dotStyles[0], dotStyles[1]][i];
    G.push({ type: 'circle', silent: true, z: 100, shape: { cx: 388, cy: y, r: 3.6 }, style: { fill: st.fill, stroke: st.stroke, lineWidth: 1 } });
    G.push(txt(s, 398, y, { size: 11 }));
  });

  // C annotations
  G.push(ptxt(' = 0.0097', 666, 372)); G.push(lin(623, 378.5, 707, 378.5));
  G.push(txt('Mutation burden (/Mb)', 552, 452, { rot: Math.PI / 2, align: 'center', size: 13.5 }));
  G.push(txt('Ulceration', 667, 546, { align: 'center', size: 13.5 }));
  // D annotations
  G.push(txt('NS', 650, 562, { align: 'center', size: 11 })); G.push(lin(628, 567.5, 662, 567.5));
  G.push(txt('NS', 682, 562, { align: 'center', size: 11 })); G.push(lin(665, 567.5, 698, 567.5));
  G.push(txt('Mutation burden (/Mb)', 552, 636, { rot: Math.PI / 2, align: 'center', size: 13.5 }));
  G.push(txt('Lymphocyte score', 663, 738, { align: 'center', size: 13.5 }));
  // E annotations
  G.push(ptxt(' = 0.012', 145, 731)); G.push(lin(87, 737.5, 198, 737.5));
  G.push(txt('NS', 126, 746, { align: 'center', size: 11 })); G.push(lin(86, 751.5, 162, 751.5));
  G.push(ptxt(' = 0.0002', 106, 761)); G.push(lin(87, 766.5, 124, 766.5));
  G.push(ptxt(' = 0.048', 161, 772)); G.push(lin(122, 777.5, 198, 777.5));
  G.push(txt('Mutation burden (/Mb)', 33, 826, { rot: Math.PI / 2, align: 'center', size: 13.5 }));
  // F annotations
  G.push(ptxt(' = 0.86', 426, 737)); G.push(lin(392, 744.5, 462, 744.5));
  G.push(ptxt(' = 0.53', 390, 755)); G.push(lin(355, 762.5, 423, 762.5));
  G.push(ptxt(' = 0.68', 446, 755)); G.push(lin(428, 762.5, 462, 762.5));
  G.push(ptxt(' = 0.045', 376, 774)); G.push(lin(358, 781, 393, 781));
  G.push(txt('Mutation burden (/Mb)', 303, 826, { rot: Math.PI / 2, align: 'center', size: 13.5 }));
  // G legend & title
  G.push(txt('Percent (%)', 553, 819, { rot: Math.PI / 2, align: 'center', size: 14 }));
  G.push(rct(757, 763, 8, 8, '#c286c1')); G.push(txt('NAM', 768, 767, { size: 11 }));
  G.push(rct(757, 778, 8, 8, '#f9b349')); G.push(txt('NNAM', 768, 782, { size: 11 }));

  return {
    animation: false,
    backgroundColor: '#ffffff',
    textStyle: { fontFamily: FONT },
    grid: grids.map((g) => ({ ...g, containLabel: false })),
    xAxis, yAxis, series,
    graphic: { elements: G },
  };
}

export default function App() {
  const ref = useRef<HTMLDivElement>(null);
  useEffect(() => {
    if (!ref.current) return;
    const chart = echarts.init(ref.current, null, { renderer: 'svg' });
    chart.setOption(buildOption() as any);
    return () => chart.dispose();
  }, []);
  return <div ref={ref} style={{ position: 'absolute', left: 0, top: 0, width: 800, height: 925, background: '#fff' }} />;
}
